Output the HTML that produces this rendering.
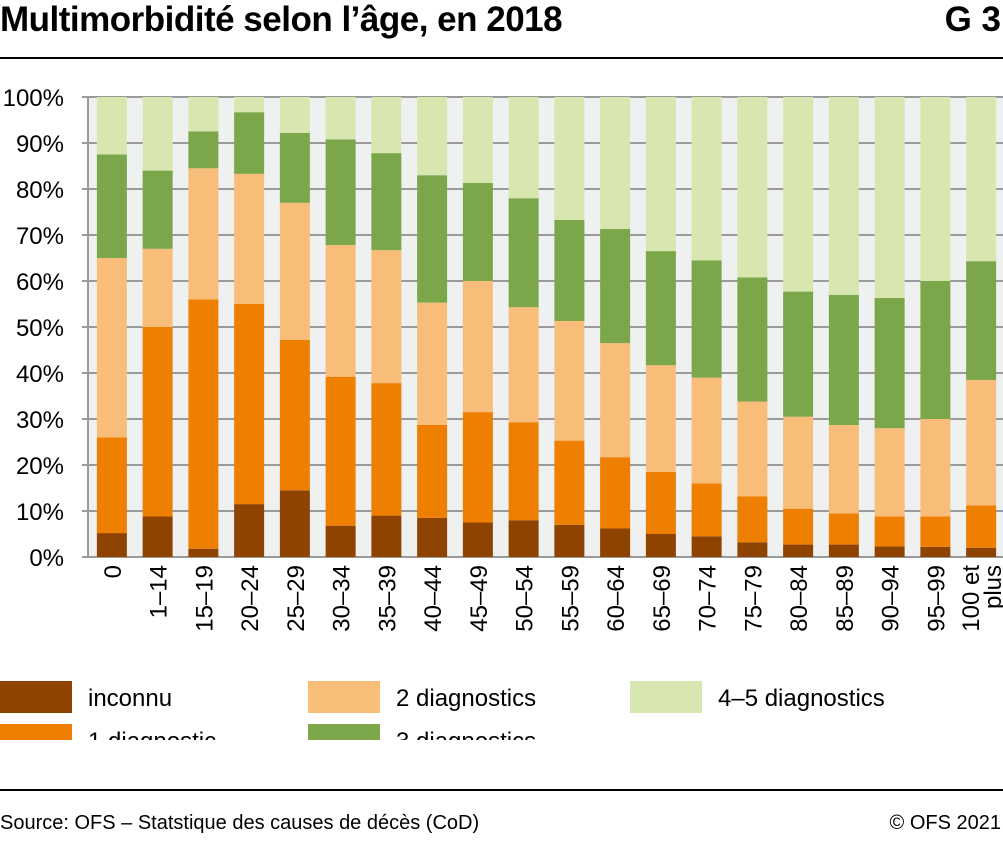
<!DOCTYPE html>
<html><head><meta charset="utf-8"><style>
body{margin:0;width:1003px;height:841px;background:#fff;font-family:"Liberation Sans",sans-serif;overflow:hidden;position:relative}
.t{position:absolute;white-space:nowrap;color:#000}
</style></head><body>
<div class="t" style="left:0;top:0;font-size:35px;font-weight:bold;letter-spacing:-0.5px">Multimorbidité selon l’âge, en 2018</div>
<div class="t" style="right:2px;top:0;font-size:35px;font-weight:bold">G 3</div>
<div style="position:absolute;left:0;top:57px;width:1003px;height:2px;background:#000"></div>
<svg id="chart" width="1003" height="680" style="position:absolute;left:0;top:60px"></svg>
<div style="position:absolute;left:0;top:789px;width:1003px;height:2px;background:#000"></div>
<div class="t" style="left:0;top:812px;font-size:20px">Source: OFS – Statstique des causes de décès (CoD)</div>
<div class="t" style="right:2px;top:812px;font-size:20px">© OFS 2021</div>
<script>
const categories=["0","1–14","15–19","20–24","25–29","30–34","35–39","40–44","45–49","50–54","55–59","60–64","65–69","70–74","75–79","80–84","85–89","90–94","95–99","100 et|plus"];
const seriesNames=["inconnu","1 diagnostic","2 diagnostics","3 diagnostics","4–5 diagnostics"];
const inconnu=[5.2,8.8,1.8,11.5,14.5,6.8,9,8.5,7.5,8,7,6.2,5,4.5,3.2,2.7,2.7,2.3,2.2,2];
const diag1=[20.8,41.2,54.2,43.5,32.7,32.4,28.8,20.2,24,21.3,18.3,15.5,13.5,11.5,10,7.8,6.8,6.5,6.6,9.2];
const diag2=[39,17,28.5,28.3,29.8,28.6,28.9,26.6,28.5,25,26,24.8,23.2,23,20.6,20,19.2,19.2,21.2,27.3];
const diag3=[22.5,17,8,13.4,15.2,23,21.1,27.7,21.3,23.7,22,24.8,24.8,25.5,27,27.2,28.3,28.3,30,25.8];
const diag45=[12.5,16,7.5,3.3,7.8,9.2,12.2,17,18.7,22,26.7,28.7,33.5,35.5,39.2,42.3,43,43.7,40,35.7];
const yTicks=[0,10,20,30,40,50,60,70,80,90,100];
const colors=["#8f4300","#ee7f00","#f8bd78","#7ba64a","#d8e6b0"];
const series=[inconnu,diag1,diag2,diag3,diag45];
const NS="http://www.w3.org/2000/svg",svg=document.getElementById('chart');
const X0=88,X1=1003,Y0=497,Y1=37,band=(X1-X0)/categories.length,bw=30;
const y=v=>Y0-(v/100)*(Y0-Y1);
const x=i=>X0+i*band+(band-bw)/2+1;
function mk(t,a){const e=document.createElementNS(NS,t);for(const k in a)e.setAttribute(k,a[k]);svg.appendChild(e);return e;}
let bg=mk('rect',{x:X0,y:Y1,width:X1-X0,height:Y0-Y1,fill:'#eff0f0'});


yTicks.forEach(v=>{
 const g=mk('line',{x1:X0-6,x2:X1,y1:y(v),y2:y(v),stroke:'#9a9a9a','stroke-width':2});
 
 
 const t=mk('text',{x:64,y:y(v)+9,'text-anchor':'end','font-size':24,fill:'#000'});
 t.textContent=v+'%';
 
 
});
categories.forEach((c,i)=>{
 let cum=0;
 series.forEach((s,k)=>{
  const r=mk('rect',{x:x(i),y:y(cum+s[i]),width:bw,height:y(cum)-y(cum+s[i]),fill:colors[k]});
  
  
  cum+=s[i];
 });
 const parts=c.split('|');
 parts.forEach((p,j)=>{
  const cx=x(i)+bw/2+9+(j-(parts.length-1)/2)*22;
  const t=mk('text',{x:cx,y:Y0+8,'text-anchor':'end','font-size':24,fill:'#000',transform:`rotate(-90 ${cx} ${Y0+8})`});
  t.textContent=p;
  
  
 });
});
const ax=mk('line',{x1:X0,x2:X0,y1:Y1,y2:Y0,stroke:'#9a9a9a','stroke-width':2});


const leg=[[0,621,0],[0,664,1],[308,621,2],[308,664,3],[630,621,4]];
leg.forEach(([lx,ly,k])=>{
 const r=mk('rect',{x:lx,y:ly,width:72,height:32,fill:colors[k]});
 
 
 const t=mk('text',{x:lx+88,y:ly+25,'font-size':24,fill:'#000'});
 t.textContent=seriesNames[k];
 
 
});
</script>
</body></html>
